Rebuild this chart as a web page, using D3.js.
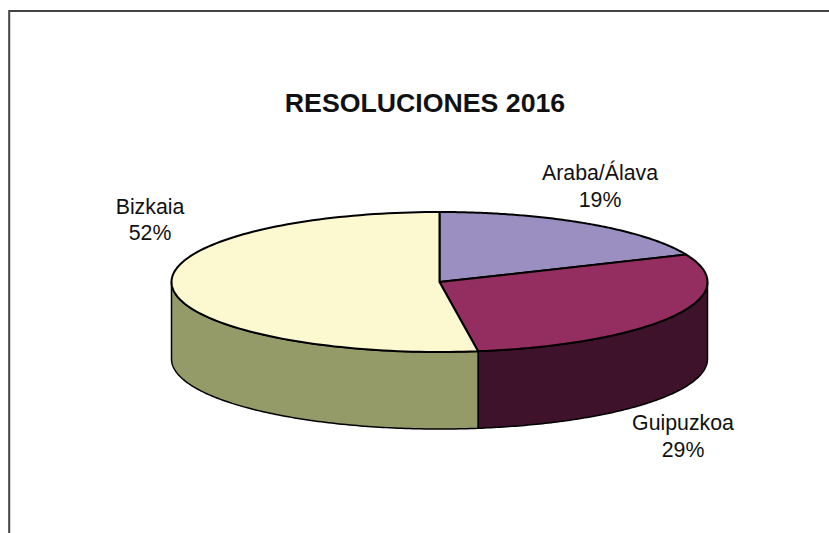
<!DOCTYPE html>
<html><head><meta charset="utf-8">
<style>html,body{margin:0;padding:0;background:#fff}svg{display:block}text{font-family:"Liberation Sans",Arial,sans-serif;fill:#111}</style>
<script src="https://cdn.jsdelivr.net/npm/d3@7"></script></head><body>
<svg id="c" width="829" height="533"></svg>
<script>
const categories = ["Araba/Álava","Guipuzkoa","Bizkaia"];
const values = [18.6,29.1,52.3];
const topColors = ["#9a8fc0","#952e60","#fcf8cf"];
const sideColors = ["#4c4860","#3f122b","#959b68"];
const title = "RESOLUCIONES 2016";

const svg = d3.select("#c");
const cx = 439.5, cy = 282, rx = 268, ry = 70, depth = 77;

// frame
svg.append("path").attr("d","M9.2,533V11H829").attr("fill","none").attr("stroke","#444").attr("stroke-width",2);

svg.append("text").attr("x",425).attr("y",112).attr("text-anchor","middle")
  .attr("font-size",26.7).attr("font-weight","bold").text(title);

const arcs = d3.pie().sort(null)(values);
const px = d3.scaleLinear().domain([-1,1]).range([cx-rx,cx+rx]);
const py = d3.scaleLinear().domain([-1,1]).range([cy-ry,cy+ry]);
const pt = (a,dz=0)=>[px(Math.sin(a)),py(-Math.cos(a))+dz];

const line = d3.line();
arcs.forEach((d,i)=>{
  const a0 = Math.max(d.startAngle,Math.PI/2), a1 = Math.min(d.endAngle,3*Math.PI/2);
  if(a1<=a0) return;
  const ang = d3.range(0,121).map(k=>a0+(a1-a0)*k/120);
  const upper = ang.map(a=>pt(a,0));
  const lower = ang.map(a=>pt(a,depth)).reverse();
  svg.append("path").attr("d",line(upper.concat(lower))+"Z")
    .attr("fill",sideColors[i]).attr("stroke","#000").attr("stroke-width",1.5).attr("stroke-linejoin","round");
});
arcs.forEach((d,i)=>{
  const ang = d3.range(0,121).map(k=>d.startAngle+(d.endAngle-d.startAngle)*k/120);
  const pts = [[cx,cy]].concat(ang.map(a=>pt(a,0)));
  svg.append("path").attr("d",line(pts)+"Z")
    .attr("fill",topColors[i]).attr("stroke","#000").attr("stroke-width",2).attr("stroke-linejoin","round");
});

const labelPos = [[600,180],[683,430],[150,213.5]];
categories.forEach((c,i)=>{
  const t = svg.append("text").attr("text-anchor","middle").attr("font-size",21.3);
  t.append("tspan").attr("x",labelPos[i][0]).attr("y",labelPos[i][1]).text(c);
  t.append("tspan").attr("x",labelPos[i][0]).attr("y",labelPos[i][1]+26.7).text(Math.round(values[i])+"%");
});
</script></body></html>
